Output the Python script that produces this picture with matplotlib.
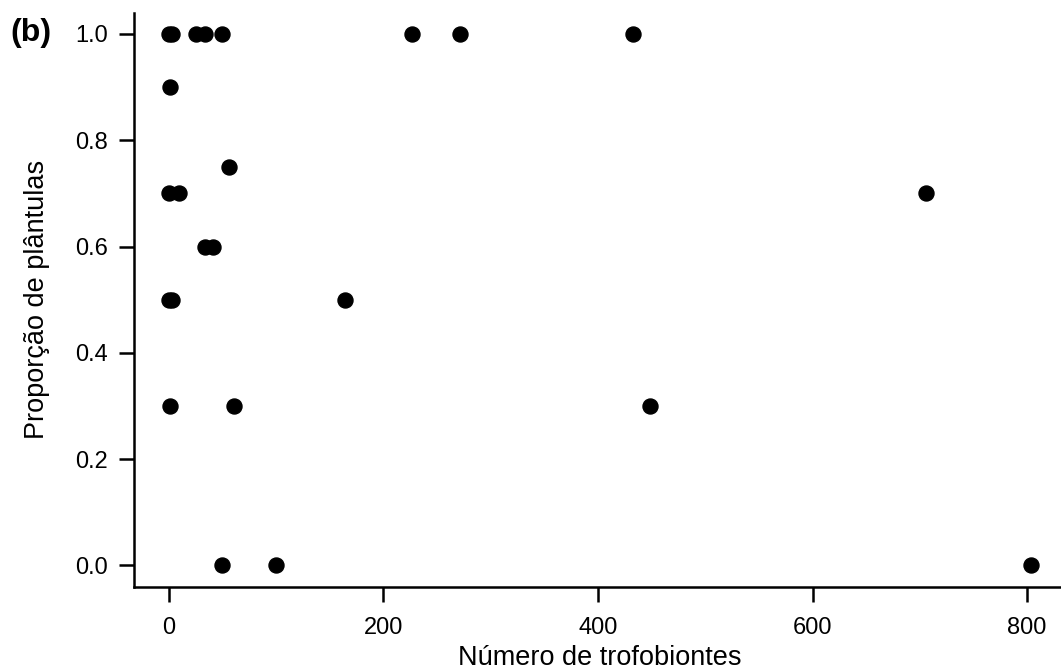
#! -*- coding: utf-8 -*-

#---------------------------------
# imports
#---------------------------------
import matplotlib
matplotlib.use('Agg')
import matplotlib.pyplot as plt

#---------------------------------
# data
#---------------------------------
n_trofobiontes = [0, 3, 26, 34, 50, 227, 272, 433,
                  1,
                  56,
                  0, 10, 706,
                  34, 41,
                  0, 3, 164,
                  1, 61, 449,
                  50, 100, 804]
prop_plantulas = [1.0, 1.0, 1.0, 1.0, 1.0, 1.0, 1.0, 1.0,
                  0.9,
                  0.75,
                  0.7, 0.7, 0.7,
                  0.6, 0.6,
                  0.5, 0.5, 0.5,
                  0.3, 0.3, 0.3,
                  0.0, 0.0, 0.0]
x_ticks = [0, 200, 400, 600, 800]
y_ticks = [0.0, 0.2, 0.4, 0.6, 0.8, 1.0]

#---------------------------------
# main
#---------------------------------
def main():
    plt.rcParams['font.family'] = ['Liberation Sans', 'DejaVu Sans']

    fig = plt.figure(figsize=(10.61, 6.69), dpi=100)
    W, H = 1061.0, 669.0
    # --- R-like layout: axes extend slightly past the right edge ---
    ax = fig.add_axes([134 / W, (H - 586.7) / H, (1066 - 134) / W, (586.7 - 12.7) / H])

    # --- scatter ---
    ax.plot(n_trofobiontes, prop_plantulas, linestyle='none', marker='o',
            markersize=10.8, color='black', clip_on=False)

    # --- axes (R style: 4% padding, left/bottom only) ---
    ax.set_xlim(-32.2, 836.2)
    ax.set_ylim(-0.04, 1.04)
    ax.spines['top'].set_visible(False)
    ax.spines['right'].set_visible(False)
    for side in ['left', 'bottom']:
        ax.spines[side].set_linewidth(1.8)
    ax.set_xticks(x_ticks)
    ax.set_xticklabels([str(v) for v in x_ticks])
    ax.set_yticks(y_ticks)
    ax.set_yticklabels(['{:.1f}'.format(v) for v in y_ticks])
    ax.tick_params(axis='both', direction='out', length=10.5, width=1.8,
                   labelsize=17, colors='black')
    ax.tick_params(axis='x', pad=11)
    ax.tick_params(axis='y', pad=8.5)

    # --- labels ---
    ax.set_xlabel('Número de trofobiontes', fontsize=19.5, va='center')
    ax.set_ylabel('Proporção de plântulas', fontsize=19.5, va='center')
    ax.xaxis.set_label_coords(0.5, -0.124)
    ax.yaxis.set_label_coords(-0.104, 0.5)
    fig.text(10 / W, 1 - 33 / H, '(b)', fontsize=23, fontweight='bold',
             ha='left', va='center')

    plt.savefig('out.png', dpi=100)
    plt.close()

    return

if __name__ == '__main__':
    main()
